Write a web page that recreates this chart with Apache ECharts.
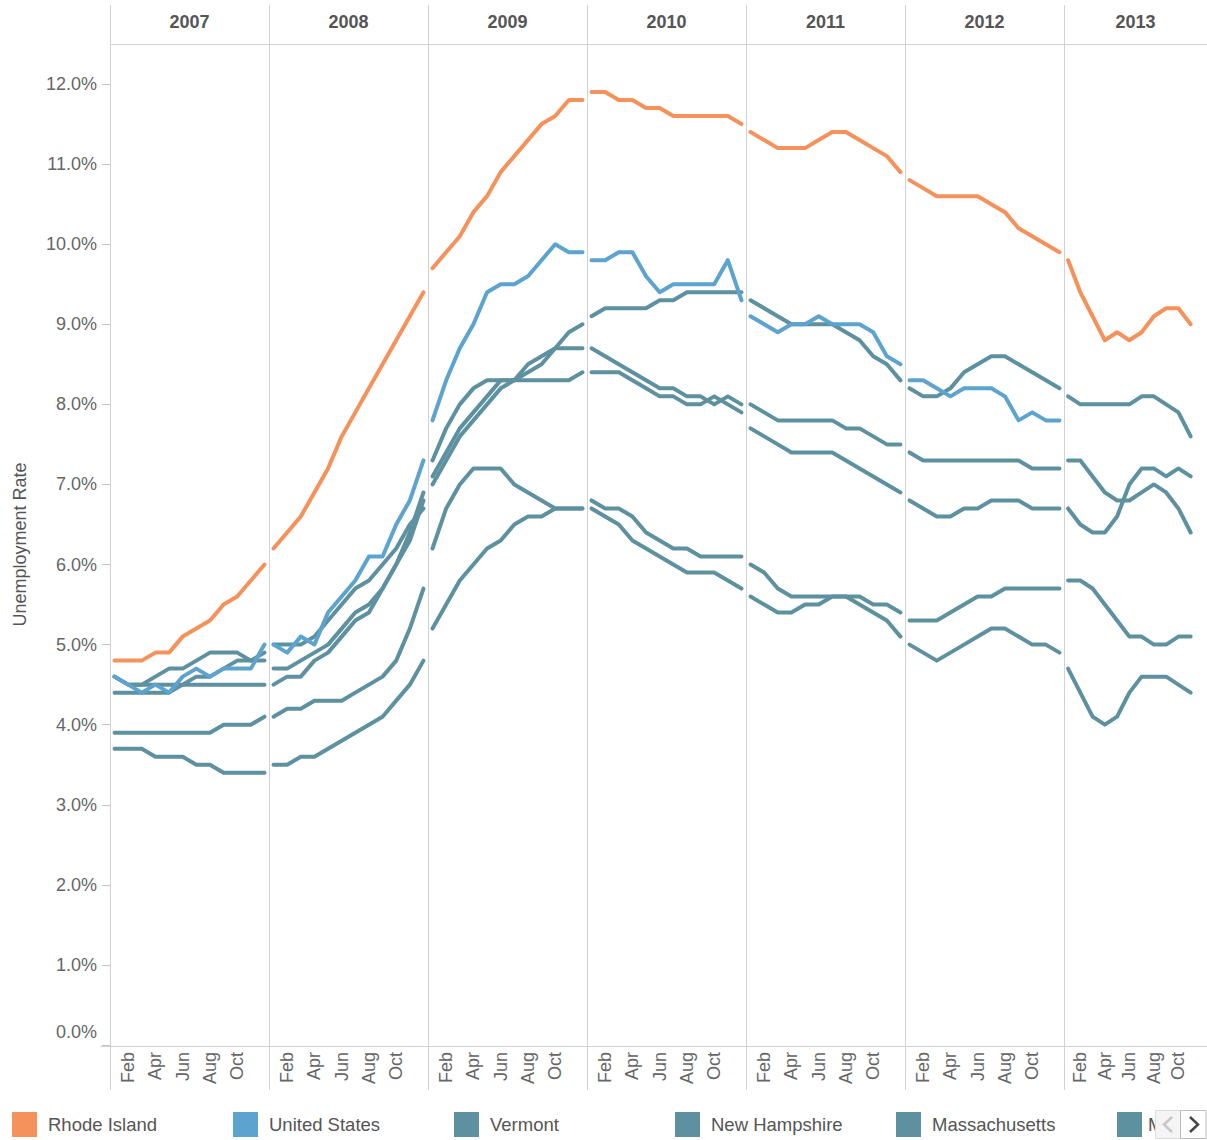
<!DOCTYPE html>
<html>
<head>
<meta charset="utf-8">
<script src="https://cdn.jsdelivr.net/npm/echarts@6/dist/echarts.min.js"></script>
<style>
html,body{margin:0;padding:0;background:#ffffff;}
#chart{width:1207px;height:1140px;}
</style>
</head>
<body>
<div id="chart"></div>
<script>
// ---------------- data ----------------
const years = ['2007', '2008', '2009', '2010', '2011', '2012', '2013'];
const months = [1, 2, 3, 4, 5, 6, 7, 8, 9, 10, 11, 12];
const monthLabels = ['Jan', 'Feb', 'Mar', 'Apr', 'May', 'Jun', 'Jul', 'Aug', 'Sep', 'Oct', 'Nov', 'Dec'];
const monthTicks = [2, 4, 6, 8, 10];
const yTicks = [0, 1, 2, 3, 4, 5, 6, 7, 8, 9, 10, 11, 12];
// legend entries visible in the (scrolled) legend strip
const legendOrder = ['Rhode Island', 'United States', 'Vermont', 'New Hampshire', 'Massachusetts', 'Maine'];

// unemployment rate (%) by month, Jan..Dec for each year 2007..2013
const rhodeIsland = [
  4.8, 4.8, 4.8, 4.9, 4.9, 5.1, 5.2, 5.3, 5.5, 5.6, 5.8, 6.0,
  6.2, 6.4, 6.6, 6.9, 7.2, 7.6, 7.9, 8.2, 8.5, 8.8, 9.1, 9.4,
  9.7, 9.9, 10.1, 10.4, 10.6, 10.9, 11.1, 11.3, 11.5, 11.6, 11.8, 11.8,
  11.9, 11.9, 11.8, 11.8, 11.7, 11.7, 11.6, 11.6, 11.6, 11.6, 11.6, 11.5,
  11.4, 11.3, 11.2, 11.2, 11.2, 11.3, 11.4, 11.4, 11.3, 11.2, 11.1, 10.9,
  10.8, 10.7, 10.6, 10.6, 10.6, 10.6, 10.5, 10.4, 10.2, 10.1, 10.0, 9.9,
  9.8, 9.4, 9.1, 8.8, 8.9, 8.8, 8.9, 9.1, 9.2, 9.2, 9.0, null
];
const unitedStates = [
  4.6, 4.5, 4.4, 4.5, 4.4, 4.6, 4.7, 4.6, 4.7, 4.7, 4.7, 5.0,
  5.0, 4.9, 5.1, 5.0, 5.4, 5.6, 5.8, 6.1, 6.1, 6.5, 6.8, 7.3,
  7.8, 8.3, 8.7, 9.0, 9.4, 9.5, 9.5, 9.6, 9.8, 10.0, 9.9, 9.9,
  9.8, 9.8, 9.9, 9.9, 9.6, 9.4, 9.5, 9.5, 9.5, 9.5, 9.8, 9.3,
  9.1, 9.0, 8.9, 9.0, 9.0, 9.1, 9.0, 9.0, 9.0, 8.9, 8.6, 8.5,
  8.3, 8.3, 8.2, 8.1, 8.2, 8.2, 8.2, 8.1, 7.8, 7.9, 7.8, 7.8,
  null, null, null, null, null, null, null, null, null, null, null, null
];
const vermont = [
  3.9, 3.9, 3.9, 3.9, 3.9, 3.9, 3.9, 3.9, 4.0, 4.0, 4.0, 4.1,
  4.1, 4.2, 4.2, 4.3, 4.3, 4.3, 4.4, 4.5, 4.6, 4.8, 5.2, 5.7,
  6.2, 6.7, 7.0, 7.2, 7.2, 7.2, 7.0, 6.9, 6.8, 6.7, 6.7, 6.7,
  6.7, 6.6, 6.5, 6.3, 6.2, 6.1, 6.0, 5.9, 5.9, 5.9, 5.8, 5.7,
  5.6, 5.5, 5.4, 5.4, 5.5, 5.5, 5.6, 5.6, 5.5, 5.4, 5.3, 5.1,
  5.0, 4.9, 4.8, 4.9, 5.0, 5.1, 5.2, 5.2, 5.1, 5.0, 5.0, 4.9,
  4.7, 4.4, 4.1, 4.0, 4.1, 4.4, 4.6, 4.6, 4.6, 4.5, 4.4, null
];
const newHampshire = [
  3.7, 3.7, 3.7, 3.6, 3.6, 3.6, 3.5, 3.5, 3.4, 3.4, 3.4, 3.4,
  3.5, 3.5, 3.6, 3.6, 3.7, 3.8, 3.9, 4.0, 4.1, 4.3, 4.5, 4.8,
  5.2, 5.5, 5.8, 6.0, 6.2, 6.3, 6.5, 6.6, 6.6, 6.7, 6.7, 6.7,
  6.8, 6.7, 6.7, 6.6, 6.4, 6.3, 6.2, 6.2, 6.1, 6.1, 6.1, 6.1,
  6.0, 5.9, 5.7, 5.6, 5.6, 5.6, 5.6, 5.6, 5.6, 5.5, 5.5, 5.4,
  5.3, 5.3, 5.3, 5.4, 5.5, 5.6, 5.6, 5.7, 5.7, 5.7, 5.7, 5.7,
  5.8, 5.8, 5.7, 5.5, 5.3, 5.1, 5.1, 5.0, 5.0, 5.1, 5.1, null
];
const massachusetts = [
  4.4, 4.4, 4.4, 4.4, 4.4, 4.5, 4.6, 4.6, 4.7, 4.8, 4.8, 4.9,
  5.0, 5.0, 5.0, 5.1, 5.3, 5.5, 5.7, 5.8, 6.0, 6.2, 6.5, 6.7,
  7.1, 7.4, 7.7, 7.9, 8.1, 8.3, 8.3, 8.4, 8.5, 8.7, 8.7, 8.7,
  8.7, 8.6, 8.5, 8.4, 8.3, 8.2, 8.2, 8.1, 8.1, 8.0, 8.1, 8.0,
  7.7, 7.6, 7.5, 7.4, 7.4, 7.4, 7.4, 7.3, 7.2, 7.1, 7.0, 6.9,
  6.8, 6.7, 6.6, 6.6, 6.7, 6.7, 6.8, 6.8, 6.8, 6.7, 6.7, 6.7,
  6.7, 6.5, 6.4, 6.4, 6.6, 7.0, 7.2, 7.2, 7.1, 7.2, 7.1, null
];
const maine = [
  4.6, 4.5, 4.5, 4.5, 4.5, 4.5, 4.5, 4.5, 4.5, 4.5, 4.5, 4.5,
  4.5, 4.6, 4.6, 4.8, 4.9, 5.1, 5.3, 5.4, 5.7, 6.0, 6.3, 6.8,
  7.3, 7.7, 8.0, 8.2, 8.3, 8.3, 8.3, 8.3, 8.3, 8.3, 8.3, 8.4,
  8.4, 8.4, 8.4, 8.3, 8.2, 8.1, 8.1, 8.0, 8.0, 8.1, 8.0, 7.9,
  8.0, 7.9, 7.8, 7.8, 7.8, 7.8, 7.8, 7.7, 7.7, 7.6, 7.5, 7.5,
  7.4, 7.3, 7.3, 7.3, 7.3, 7.3, 7.3, 7.3, 7.3, 7.2, 7.2, 7.2,
  7.3, 7.3, 7.1, 6.9, 6.8, 6.8, 6.9, 7.0, 6.9, 6.7, 6.4, null
];
const connecticut = [
  4.6, 4.5, 4.5, 4.6, 4.7, 4.7, 4.8, 4.9, 4.9, 4.9, 4.8, 4.8,
  4.7, 4.7, 4.8, 4.9, 5.0, 5.2, 5.4, 5.5, 5.7, 6.0, 6.4, 6.9,
  7.0, 7.3, 7.6, 7.8, 8.0, 8.2, 8.3, 8.5, 8.6, 8.7, 8.9, 9.0,
  9.1, 9.2, 9.2, 9.2, 9.2, 9.3, 9.3, 9.4, 9.4, 9.4, 9.4, 9.4,
  9.3, 9.2, 9.1, 9.0, 9.0, 9.0, 9.0, 8.9, 8.8, 8.6, 8.5, 8.3,
  8.2, 8.1, 8.1, 8.2, 8.4, 8.5, 8.6, 8.6, 8.5, 8.4, 8.3, 8.2,
  8.1, 8.0, 8.0, 8.0, 8.0, 8.0, 8.1, 8.1, 8.0, 7.9, 7.6, null
];

// ---------------- styling / layout ----------------
const FONT = '"Liberation Sans", Arial, sans-serif';
const C_RI = '#F5915A';
const C_US = '#5DA3D0';
const C_NE = '#5E919F';
const PANEL_LEFT = 110, PANEL_W = 159, TOP = 44, AXIS_Y = 1045;
const LINE_C = '#d2d2d2';
const LEGEND_STEP = 221;

const stateList = [
  { name: 'Vermont', values: vermont, color: C_NE },
  { name: 'New Hampshire', values: newHampshire, color: C_NE },
  { name: 'Massachusetts', values: massachusetts, color: C_NE },
  { name: 'Maine', values: maine, color: C_NE },
  { name: 'Connecticut', values: connecticut, color: C_NE },
  { name: 'United States', values: unitedStates, color: C_US },
  { name: 'Rhode Island', values: rhodeIsland, color: C_RI }
];

const grids = years.map((y, i) => ({
  left: PANEL_LEFT + PANEL_W * i, top: TOP, width: PANEL_W, height: AXIS_Y - TOP
}));

const xAxes = years.map((y, i) => ({
  type: 'value', gridIndex: i, min: 0.668, max: 12.332,
  splitLine: { show: false }, axisLine: { show: false }, axisTick: { show: false },
  axisLabel: {
    customValues: monthTicks, formatter: v => monthLabels[v - 1],
    rotate: 90, margin: 7, fontSize: 18, color: '#666', fontFamily: FONT
  }
}));

const yAxes = years.map((y, i) => ({
  type: 'value', gridIndex: i, min: 0, max: 12.5, show: i === 0,
  splitLine: { show: false }, axisLine: { show: false },
  axisTick: { show: true, customValues: yTicks, length: 8, lineStyle: { color: '#c4c4c4' } },
  axisLabel: {
    customValues: yTicks, margin: 13, fontSize: 18, color: '#666', fontFamily: FONT,
    formatter: v => v === 0 ? '{z|0.0%}' : v.toFixed(1) + '%',
    rich: { z: { fontSize: 18, color: '#666', fontFamily: FONT, padding: [0, 0, 26, 0] } }
  },
  name: 'Unemployment Rate', nameLocation: 'middle', nameGap: 81,
  nameTextStyle: { fontSize: 18, color: '#555', fontFamily: FONT }
}));

const series = [];
stateList.forEach(s => {
  years.forEach((y, i) => {
    series.push({
      type: 'line', name: s.name, xAxisIndex: i, yAxisIndex: i,
      data: months.map((m, k) => [m, s.values[i * 12 + k]]),
      symbol: 'none', silent: true,
      lineStyle: { width: 4, color: s.color, cap: 'round', join: 'round' },
      itemStyle: { color: s.color },
      emphasis: { disabled: true }
    });
  });
});

const lastIdx = legendOrder.length - 1;
const legends = legendOrder.map((name, k) => ({
  data: [name], left: 12 + LEGEND_STEP * k, top: 1112, padding: 0,
  icon: 'rect', itemWidth: 25, itemHeight: 25, selectedMode: false,
  itemStyle: { borderWidth: 0 },
  textStyle: k === lastIdx
    ? { fontSize: 18.5, color: '#555', fontFamily: FONT, padding: [0, 0, 0, 1], width: 17, overflow: 'truncate', ellipsis: '' }
    : { fontSize: 18.5, color: '#555', fontFamily: FONT, padding: [0, 0, 0, 6] }
}));

const graphic = [];
// header texts
years.forEach((y, i) => {
  const l = PANEL_LEFT + PANEL_W * i;
  const r = Math.min(l + PANEL_W, 1207);
  graphic.push({
    type: 'text', x: (l + r) / 2, y: 22,
    style: { text: y, fill: '#555', font: 'bold 18px ' + FONT, textAlign: 'center', textVerticalAlign: 'middle' }
  });
});
// vertical separators
years.forEach((y, i) => {
  const x = PANEL_LEFT + PANEL_W * i + 0.5;
  graphic.push({ type: 'line', shape: { x1: x, y1: 5, x2: x, y2: 1090 }, style: { stroke: LINE_C, lineWidth: 1 } });
});
// header bottom line and x-axis line
graphic.push({ type: 'line', shape: { x1: PANEL_LEFT, y1: TOP + 0.5, x2: 1207, y2: TOP + 0.5 }, style: { stroke: LINE_C, lineWidth: 1 } });
graphic.push({ type: 'line', shape: { x1: 100, y1: AXIS_Y + 1.5, x2: 1207, y2: AXIS_Y + 1.5 }, style: { stroke: LINE_C, lineWidth: 1 } });
// legend pager
graphic.push({ type: 'rect', shape: { x: 1155.5, y: 1110.5, width: 25, height: 28 }, style: { fill: '#f4f4f4', stroke: '#dcdcdc', lineWidth: 1 }, z: 100 });
graphic.push({ type: 'rect', shape: { x: 1180.5, y: 1110.5, width: 25.5, height: 28 }, style: { fill: '#ffffff', stroke: '#bdbdbd', lineWidth: 1 }, z: 100 });
graphic.push({ type: 'polyline', shape: { points: [[1172, 1117], [1164, 1124.5], [1172, 1132]] }, style: { stroke: '#c8c8c8', lineWidth: 2.5, fill: null }, z: 101 });
graphic.push({ type: 'polyline', shape: { points: [[1190, 1117], [1198, 1124.5], [1190, 1132]] }, style: { stroke: '#444', lineWidth: 2.5, fill: null }, z: 101 });

const option = {
  animation: false,
  backgroundColor: '#ffffff',
  grid: grids,
  xAxis: xAxes,
  yAxis: yAxes,
  series: series,
  legend: legends,
  graphic: graphic
};

const chart = echarts.init(document.getElementById('chart'), null, { renderer: 'svg', width: 1207, height: 1140 });
chart.setOption(option);
</script>
</body>
</html>
